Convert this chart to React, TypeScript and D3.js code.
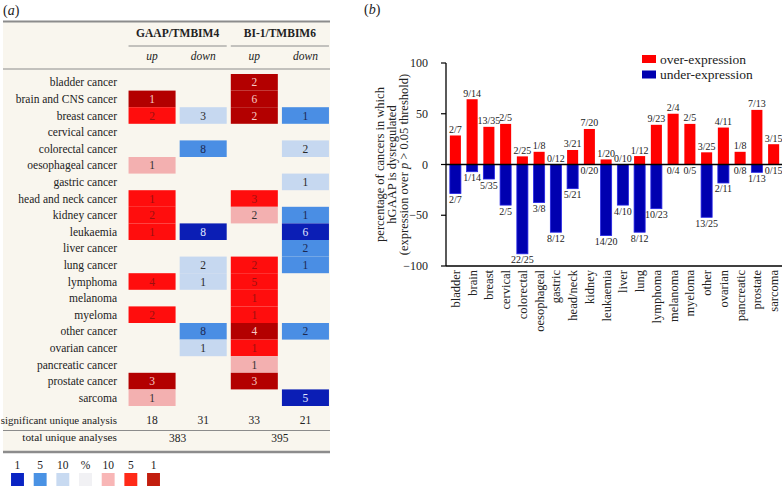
import React from "react";
import * as d3 from "d3";

// ---------- Panel (a) data ----------
const rowLabels = [
  "bladder cancer", "brain and CNS cancer", "breast cancer", "cervical cancer",
  "colorectal cancer", "oesophageal cancer", "gastric cancer", "head and neck cancer",
  "kidney cancer", "leukaemia", "liver cancer", "lung cancer", "lymphoma", "melanoma",
  "myeloma", "other cancer", "ovarian cancer", "pancreatic cancer", "prostate cancer", "sarcoma",
];
const genes = ["GAAP/TMBIM4", "BI-1/TMBIM6"];
const directions = ["up", "down"];
// counts per column (GAAP up, GAAP down, BI-1 up, BI-1 down)
const gaapUpCounts = [null, 1, 2, null, null, 1, null, 1, 2, 1, null, null, 4, null, 2, null, null, null, 3, 1];
const gaapUpLevels = [0, 3, 2, 0, 0, 1, 0, 2, 2, 2, 0, 0, 2, 0, 2, 0, 0, 0, 3, 1];
const gaapDownCounts = [null, null, 3, null, 8, null, null, null, null, 8, null, 2, 1, null, null, 8, 1, null, null, null];
const gaapDownLevels = [0, 0, -1, 0, -2, 0, 0, 0, 0, -3, 0, -1, -1, 0, 0, -2, -1, 0, 0, 0];
const biUpCounts = [2, 6, 2, null, null, null, null, 3, 2, null, null, 2, 5, 1, 1, 4, 1, 1, 3, null];
const biUpLevels = [3, 3, 3, 0, 0, 0, 0, 2, 1, 0, 0, 2, 2, 2, 2, 3, 2, 1, 3, 0];
const biDownCounts = [null, null, 1, null, 2, null, 1, null, 1, 6, 2, 1, null, null, null, 2, null, null, null, 5];
const biDownLevels = [0, 0, -2, 0, -1, 0, -1, 0, -2, -3, -2, -2, 0, 0, 0, -2, 0, 0, 0, -3];
const significantCounts = [18, 31, 33, 21];
const totalCounts = [383, 395];
const legendLabels = ["1", "5", "10", "%", "10", "5", "1"];
const legendLevels = [-3, -2, -1, 0, 1, 2, 3];

// ---------- Panel (b) data ----------
const categories = [
  "bladder", "brain", "breast", "cervical", "colorectal", "oesophageal", "gastric",
  "head/neck", "kidney", "leukaemia", "liver", "lung", "lymphoma", "melanoma", "myeloma",
  "other", "ovarian", "pancreatic", "prostate", "sarcoma",
];
const overValues = [28.6, 64.3, 37.1, 40, 8, 12.5, 0, 14.3, 35, 5, 0, 8.3, 39.1, 50, 40, 12, 36.4, 12.5, 53.8, 20];
const overLabels = ["2/7", "9/14", "13/35", "2/5", "2/25", "1/8", "0/12", "3/21", "7/20", "1/20", "0/10", "1/12", "9/23", "2/4", "2/5", "3/25", "4/11", "1/8", "7/13", "3/15"];
const underValues = [-28.6, -7.1, -14.3, -40, -88, -37.5, -66.7, -23.8, 0, -70, -40, -66.7, -43.5, 0, 0, -52, -18.2, 0, -7.7, 0];
const underLabels = ["2/7", "1/14", "5/35", "2/5", "22/25", "3/8", "8/12", "5/21", "0/20", "14/20", "4/10", "8/12", "10/23", "0/4", "0/5", "13/25", "2/11", "0/8", "1/13", "0/15"];
const yTicks = [100, 50, 0, -50, -100];
const seriesNames = ["over-expression", "under-expression"];

const FONT = "'Liberation Serif', 'Times New Roman', serif";

const levelFill: Record<string, string> = {
  "3": "#b30000",
  "2": "#ff0d0d",
  "1": "#f3b0b0",
  "0": "#f1f1f3",
  "-1": "#c6d8f0",
  "-2": "#4a8ee4",
  "-3": "#0b1eb5",
};
const legendFill: Record<string, string> = {
  "3": "#c21e0e",
  "2": "#ff2a18",
  "1": "#f8b6b6",
  "0": "#f1f1f4",
  "-1": "#c8daf1",
  "-2": "#4a92e4",
  "-3": "#0a24c4",
};
const levelText: Record<string, string> = {
  "3": "#f6cbc6",
  "2": "#9b1010",
  "1": "#333333",
  "-1": "#2a2a2a",
  "-2": "#1c2850",
  "-3": "#e2e8ff",
};

function PanelA() {
  const cols = [
    { counts: gaapUpCounts, levels: gaapUpLevels },
    { counts: gaapDownCounts, levels: gaapDownLevels },
    { counts: biUpCounts, levels: biUpLevels },
    { counts: biDownCounts, levels: biDownLevels },
  ];
  const x = d3.scaleBand<number>().domain([0, 1, 2, 3]).range([126.5, 331]).paddingInner(0.08).paddingOuter(0.04);
  const y = d3.scaleBand<number>().domain(d3.range(rowLabels.length)).range([74, 406]).padding(0);
  const cx = (i: number) => (x(i) as number) + x.bandwidth() / 2;
  const cy = (i: number) => (y(i) as number) + y.bandwidth() / 2;
  const lx = d3.scaleBand<number>().domain(d3.range(legendLabels.length)).range([6.5, 164.5]).paddingInner(0.43).paddingOuter(0.2);
  const lineColor = "#8c8c8c";
  return (
    <g fontFamily={FONT}>
      <text x={3} y={15} fontSize={14} fill="#222">
        (<tspan fontStyle="italic">a</tspan>)
      </text>
      <rect x={3} y={21} width={327} height={431} fill="#f9f6ee" />
      <line x1={3} x2={330} y1={21.5} y2={21.5} stroke={lineColor} strokeWidth={2} />
      {genes.map((g, gi) => {
        const left = x(gi * 2) as number;
        const right = (x(gi * 2 + 1) as number) + x.bandwidth();
        return (
          <g key={g}>
            <text x={(left + right) / 2} y={37} textAnchor="middle" fontSize={11.5} fontWeight="bold" fill="#222">
              {g}
            </text>
            <line x1={left} x2={right} y1={46} y2={46} stroke={lineColor} strokeWidth={1} />
          </g>
        );
      })}
      {[0, 1, 2, 3].map((c) => (
        <text key={c} x={cx(c)} y={60} textAnchor="middle" fontSize={11.5} fontStyle="italic" fill="#222">
          {directions[c % 2]}
        </text>
      ))}
      <line x1={3} x2={330} y1={69} y2={69} stroke={lineColor} strokeWidth={1} />
      {rowLabels.map((r, i) => (
        <text key={r} x={117} y={cy(i)} dy="0.35em" textAnchor="end" fontSize={11.5} fill="#222">
          {r}
        </text>
      ))}
      {cols.map((col, c) =>
        col.counts.map((v, i) =>
          v == null ? null : (
            <g key={`${c}-${i}`}>
              <rect x={x(c)} y={y(i)} width={x.bandwidth()} height={y.bandwidth()} fill={levelFill[String(col.levels[i])]} />
              <text x={cx(c)} y={cy(i)} dy="0.35em" textAnchor="middle" fontSize={11.5} fill={levelText[String(col.levels[i])]}>
                {v}
              </text>
            </g>
          )
        )
      )}
      <text x={117} y={420} dy="0.35em" textAnchor="end" fontSize={10.9} fill="#222">
        significant unique analysis
      </text>
      {significantCounts.map((v, c) => (
        <text key={c} x={cx(c)} y={420} dy="0.35em" textAnchor="middle" fontSize={11.5} fill="#222">
          {v}
        </text>
      ))}
      <line x1={3} x2={330} y1={430.5} y2={430.5} stroke={lineColor} strokeWidth={1} />
      <text x={117} y={437} dy="0.35em" textAnchor="end" fontSize={11.3} fill="#222">
        total unique analyses
      </text>
      {totalCounts.map((v, gi) => (
        <text key={gi} x={(cx(gi * 2) + cx(gi * 2 + 1)) / 2} y={438} dy="0.35em" textAnchor="middle" fontSize={11.5} fill="#222">
          {v}
        </text>
      ))}
      <line x1={3} x2={330} y1={452} y2={452} stroke={lineColor} strokeWidth={2.5} />
      {legendLabels.map((l, i) => (
        <g key={i}>
          <text x={(lx(i) as number) + lx.bandwidth() / 2} y={469} textAnchor="middle" fontSize={11.5} fill="#222">
            {l}
          </text>
          <rect x={lx(i)} y={473} width={lx.bandwidth()} height={13} fill={legendFill[String(legendLevels[i])]} />
        </g>
      ))}
    </g>
  );
}

function PanelB() {
  const x = d3.scaleBand<string>().domain(categories).range([447, 782]).paddingInner(0.34).paddingOuter(0.17);
  const y = d3.scaleLinear().domain([-100, 100]).range([266, 63]);
  const axisX = 446;
  const fmt = d3.format("d");
  const red = "#ff0000";
  const blue = "#0000b0";
  return (
    <g fontFamily={FONT} fill="#222">
      <text x={364} y={14} fontSize={14}>
        (<tspan fontStyle="italic">b</tspan>)
      </text>
      {/* bars */}
      {categories.map((c, i) => {
        const bx = x(c) as number;
        return (
          <g key={c}>
            <rect x={bx} y={y(overValues[i])} width={x.bandwidth()} height={y(0) - y(overValues[i])} fill={red} />
            <rect x={bx} y={y(0)} width={x.bandwidth()} height={y(underValues[i]) - y(0)} fill={blue} stroke="#2424e6" strokeWidth={underValues[i] === 0 ? 0 : 0.8} />
          </g>
        );
      })}
      {/* zero line */}
      <line x1={axisX} x2={782} y1={y(0)} y2={y(0)} stroke="#000" strokeWidth={1.3} />
      {/* bar labels */}
      {categories.map((c, i) => {
        const mx = (x(c) as number) + x.bandwidth() / 2;
        return (
          <g key={c + "l"} fontSize={10}>
            <text x={mx} y={y(overValues[i]) - 2.5} textAnchor="middle">
              {overLabels[i]}
            </text>
            <text x={mx} y={y(underValues[i]) + 9.5} textAnchor="middle">
              {underLabels[i]}
            </text>
          </g>
        );
      })}
      {/* axes */}
      <line x1={axisX} x2={axisX} y1={y(100)} y2={y(-100)} stroke="#000" strokeWidth={1.3} />
      <line x1={axisX} x2={782} y1={y(-100)} y2={y(-100)} stroke="#000" strokeWidth={1.3} />
      {yTicks.map((t) => (
        <g key={t}>
          <line x1={axisX - 5} x2={axisX} y1={y(t)} y2={y(t)} stroke="#000" strokeWidth={1.2} />
          <text x={axisX - 18} y={y(t)} dy="0.35em" textAnchor="end" fontSize={12}>
            {t < 0 ? "\u2212" + fmt(-t) : fmt(t)}
          </text>
        </g>
      ))}
      {categories.map((c) => {
        const mx = (x(c) as number) + x.bandwidth() / 2;
        return (
          <text key={c + "x"} transform={`translate(${mx},${y(-100) + 4}) rotate(-90)`} dy="0.35em" textAnchor="end" fontSize={12.5}>
            {c}
          </text>
        );
      })}
      {/* y label */}
      <g transform={`translate(380,${y(0)}) rotate(-90)`} fontSize={12.5}>
        <text x={0} y={0} dy="0.35em" textAnchor="middle">percentage of cancers in which</text>
        <text x={0} y={12} dy="0.35em" textAnchor="middle">hGAAP is dysregulated</text>
        <text x={0} y={24} dy="0.35em" textAnchor="middle">
          (expression over <tspan fontStyle="italic">p</tspan> &gt; 0.05 threshold)
        </text>
      </g>
      {/* legend */}
      {seriesNames.map((s, i) => (
        <g key={s} transform={`translate(642,${55 + i * 15.5})`}>
          <rect x={0} y={0} width={14} height={8} fill={i === 0 ? red : blue} />
          <text x={18} y={4} dy="0.35em" fontSize={13.5}>
            {s}
          </text>
        </g>
      ))}
    </g>
  );
}

export default function App() {
  return (
    <div style={{ position: "absolute", left: 0, top: 0, width: 782, height: 487, background: "#fff" }}>
      <svg width={782} height={487} style={{ display: "block" }}>
        <rect width={782} height={487} fill="#fff" />
        <PanelA />
        <PanelB />
      </svg>
    </div>
  );
}
